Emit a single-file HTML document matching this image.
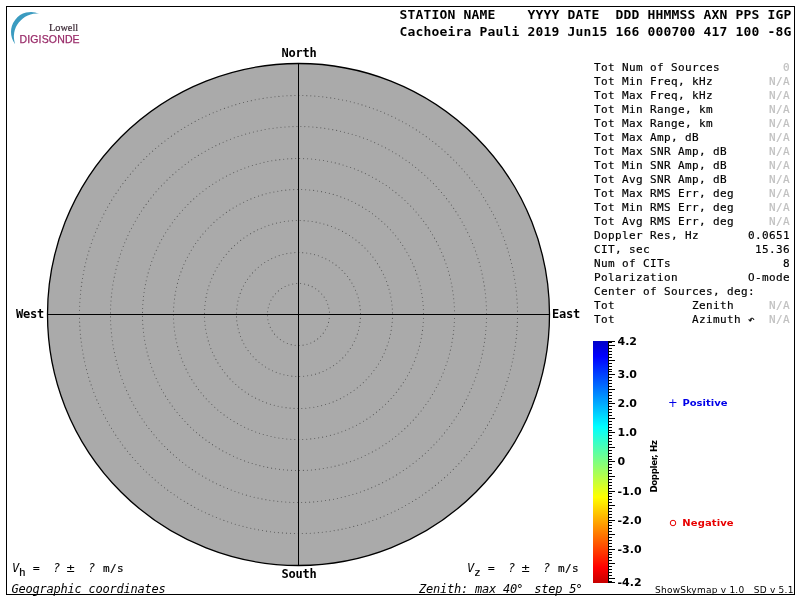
<!DOCTYPE html>
<html lang="en"><head><meta charset="utf-8"><title>Skymap - Cachoeira Paulista</title>
<style>
html,body{margin:0;padding:0;background:#fff;}
body{width:800px;height:600px;overflow:hidden;position:relative;}
svg{position:absolute;left:0;top:0;display:block;}
text{white-space:pre;}
.m{font-family:"DejaVu Sans Mono","Liberation Mono",monospace;font-size:11px;letter-spacing:0.3775px;fill:#000;stroke:#000;stroke-width:0.18px;}
.mo{font-family:"DejaVu Sans Mono","Liberation Mono",monospace;font-size:12px;letter-spacing:-0.2246px;font-style:oblique;fill:#000;}
.mb{font-family:"DejaVu Sans Mono","Liberation Mono",monospace;font-size:12px;letter-spacing:-0.2246px;font-weight:bold;fill:#000;}
.h{font-family:"DejaVu Sans Mono","Liberation Mono",monospace;font-size:13px;letter-spacing:0.1733px;font-weight:bold;fill:#000;}
.g{fill:#c0c0c0;stroke:#c0c0c0;}
.sb{font-family:"DejaVu Sans","Liberation Sans",sans-serif;font-weight:bold;font-size:11px;fill:#000;}
.lg{font-family:"DejaVu Sans","Liberation Sans",sans-serif;font-weight:bold;font-size:10px;}
.ft{font-family:"DejaVu Sans","Liberation Sans",sans-serif;font-size:9px;letter-spacing:0.24px;fill:#000;}
</style></head><body>
<svg width="800" height="600" viewBox="0 0 800 600">
<defs>
<linearGradient id="jet" x1="0" y1="0" x2="0" y2="1">
<stop offset="0" stop-color="#0000c7"/>
<stop offset="0.064" stop-color="#0000ff"/>
<stop offset="0.3547" stop-color="#00ffff"/>
<stop offset="0.6453" stop-color="#ffff00"/>
<stop offset="0.936" stop-color="#ff0000"/>
<stop offset="1" stop-color="#c70000"/>
</linearGradient>
</defs>
<rect x="6.5" y="6.5" width="788" height="588" fill="none" stroke="#000" stroke-width="1" shape-rendering="crispEdges"/>
<circle cx="298.5" cy="314.5" r="251.0" fill="#aaaaaa" stroke="#000" stroke-width="1.3"/>
<circle cx="298.5" cy="314.5" r="31.000" fill="none" stroke="#585858" stroke-width="1.1" stroke-linecap="round" stroke-dasharray="0 4"/>
<circle cx="298.5" cy="314.5" r="62.000" fill="none" stroke="#585858" stroke-width="1.1" stroke-linecap="round" stroke-dasharray="0 4"/>
<circle cx="298.5" cy="314.5" r="94.000" fill="none" stroke="#585858" stroke-width="1.1" stroke-linecap="round" stroke-dasharray="0 4"/>
<circle cx="298.5" cy="314.5" r="125.000" fill="none" stroke="#585858" stroke-width="1.1" stroke-linecap="round" stroke-dasharray="0 4"/>
<circle cx="298.5" cy="314.5" r="156.000" fill="none" stroke="#585858" stroke-width="1.1" stroke-linecap="round" stroke-dasharray="0 4"/>
<circle cx="298.5" cy="314.5" r="188.000" fill="none" stroke="#585858" stroke-width="1.1" stroke-linecap="round" stroke-dasharray="0 4"/>
<circle cx="298.5" cy="314.5" r="219.000" fill="none" stroke="#585858" stroke-width="1.1" stroke-linecap="round" stroke-dasharray="0 4"/>
<g shape-rendering="crispEdges" fill="#000"><rect x="298" y="63" width="1" height="503"/><rect x="47" y="314" width="503" height="1"/></g>
<text class="mb" x="281.5" y="57.3">North</text>
<text class="mb" x="281.5" y="578">South</text>
<text class="mb" x="16" y="318">West</text>
<text class="mb" x="552" y="318">East</text>
<text class="h" x="399.4" y="19">STATION NAME    YYYY DATE  DDD HHMMSS AXN PPS IGP</text>
<text class="h" x="399.4" y="36">Cachoeira Pauli 2019 Jun15 166 000700 417 100 -8G</text>
<text class="m" x="594" y="71">Tot Num of Sources</text>
<text class="m g" x="783" y="71">0</text>
<text class="m" x="594" y="85">Tot Min Freq, kHz</text>
<text class="m g" x="769" y="85">N/A</text>
<text class="m" x="594" y="99">Tot Max Freq, kHz</text>
<text class="m g" x="769" y="99">N/A</text>
<text class="m" x="594" y="113">Tot Min Range, km</text>
<text class="m g" x="769" y="113">N/A</text>
<text class="m" x="594" y="127">Tot Max Range, km</text>
<text class="m g" x="769" y="127">N/A</text>
<text class="m" x="594" y="141">Tot Max Amp, dB</text>
<text class="m g" x="769" y="141">N/A</text>
<text class="m" x="594" y="155">Tot Max SNR Amp, dB</text>
<text class="m g" x="769" y="155">N/A</text>
<text class="m" x="594" y="169">Tot Min SNR Amp, dB</text>
<text class="m g" x="769" y="169">N/A</text>
<text class="m" x="594" y="183">Tot Avg SNR Amp, dB</text>
<text class="m g" x="769" y="183">N/A</text>
<text class="m" x="594" y="197">Tot Max RMS Err, deg</text>
<text class="m g" x="769" y="197">N/A</text>
<text class="m" x="594" y="211">Tot Min RMS Err, deg</text>
<text class="m g" x="769" y="211">N/A</text>
<text class="m" x="594" y="225">Tot Avg RMS Err, deg</text>
<text class="m g" x="769" y="225">N/A</text>
<text class="m" x="594" y="239">Doppler Res, Hz</text>
<text class="m" x="748" y="239">0.0651</text>
<text class="m" x="594" y="253">CIT, sec</text>
<text class="m" x="755" y="253">15.36</text>
<text class="m" x="594" y="267">Num of CITs</text>
<text class="m" x="783" y="267">8</text>
<text class="m" x="594" y="281">Polarization</text>
<text class="m" x="748" y="281">O-mode</text>
<text class="m" x="594" y="295">Center of Sources, deg:</text>
<text class="m" x="594" y="309">Tot           Zenith</text>
<text class="m g" x="769" y="309">N/A</text>
<text class="m" x="594" y="323">Tot           Azimuth ↶</text>
<text class="m g" x="769" y="323">N/A</text>
<text class="mo" x="12" y="572">V</text><text class="m" x="19" y="576">h</text><text class="m" x="33" y="572">=</text><text class="mo" x="53.1" y="572">?</text><text class="m" x="66.1" y="572" style="font-family:'DejaVu Sans','Liberation Sans',sans-serif;font-size:11px;letter-spacing:0">±</text><text class="mo" x="88" y="572">?</text><text class="m" x="103" y="572">m/s</text>
<text class="mo" x="467" y="572">V</text><text class="m" x="474" y="576">z</text><text class="m" x="488" y="572">=</text><text class="mo" x="508.1" y="572">?</text><text class="m" x="521.1" y="572" style="font-family:'DejaVu Sans','Liberation Sans',sans-serif;font-size:11px;letter-spacing:0">±</text><text class="mo" x="543" y="572">?</text><text class="m" x="558" y="572">m/s</text>
<text class="mo" x="11.6" y="593">Geographic coordinates</text>
<text class="mo" x="419" y="593">Zenith: max 40</text>
<text class="mo" x="516.1" y="592.6" style="font-size:12.5px">°</text>
<text class="mo" x="534.25" y="593">step 5</text>
<text class="mo" x="575.3" y="592.6" style="font-size:12.5px">°</text>
<rect x="593" y="341" width="15" height="242" fill="url(#jet)" shape-rendering="crispEdges"/>
<path d="M608 341h1v242h-1zM609 341h6v1h-6zM609 342h3v1h-3zM609 345h6v1h-6zM609 348h3v1h-3zM609 351h3v1h-3zM609 354h3v1h-3zM609 357h3v1h-3zM609 360h6v1h-6zM609 363h3v1h-3zM609 366h3v1h-3zM609 369h3v1h-3zM609 371h3v1h-3zM609 374h6v1h-6zM609 377h3v1h-3zM609 380h3v1h-3zM609 383h3v1h-3zM609 386h3v1h-3zM609 389h6v1h-6zM609 392h3v1h-3zM609 395h3v1h-3zM609 398h3v1h-3zM609 401h3v1h-3zM609 403h6v1h-6zM609 406h3v1h-3zM609 409h3v1h-3zM609 412h3v1h-3zM609 415h3v1h-3zM609 418h6v1h-6zM609 421h3v1h-3zM609 424h3v1h-3zM609 427h3v1h-3zM609 430h3v1h-3zM609 432h6v1h-6zM609 435h3v1h-3zM609 438h3v1h-3zM609 441h3v1h-3zM609 444h3v1h-3zM609 447h6v1h-6zM609 450h3v1h-3zM609 453h3v1h-3zM609 456h3v1h-3zM609 459h3v1h-3zM609 461h6v1h-6zM609 464h3v1h-3zM609 467h3v1h-3zM609 470h3v1h-3zM609 473h3v1h-3zM609 476h6v1h-6zM609 479h3v1h-3zM609 482h3v1h-3zM609 485h3v1h-3zM609 488h3v1h-3zM609 491h6v1h-6zM609 493h3v1h-3zM609 496h3v1h-3zM609 499h3v1h-3zM609 502h3v1h-3zM609 505h6v1h-6zM609 508h3v1h-3zM609 511h3v1h-3zM609 514h3v1h-3zM609 517h3v1h-3zM609 520h6v1h-6zM609 522h3v1h-3zM609 525h3v1h-3zM609 528h3v1h-3zM609 531h3v1h-3zM609 534h6v1h-6zM609 537h3v1h-3zM609 540h3v1h-3zM609 543h3v1h-3zM609 546h3v1h-3zM609 549h6v1h-6zM609 552h3v1h-3zM609 554h3v1h-3zM609 557h3v1h-3zM609 560h3v1h-3zM609 563h6v1h-6zM609 566h3v1h-3zM609 569h3v1h-3zM609 572h3v1h-3zM609 575h3v1h-3zM609 578h6v1h-6zM609 581h3v1h-3zM609 582h6v1h-6z" fill="#000" shape-rendering="crispEdges"/>
<text class="sb" x="617.5" y="345">4.2</text>
<text class="sb" x="617.5" y="378">3.0</text>
<text class="sb" x="617.5" y="407">2.0</text>
<text class="sb" x="617.5" y="436">1.0</text>
<text class="sb" x="617.5" y="465">0</text>
<text class="sb" x="617.5" y="495">-1.0</text>
<text class="sb" x="617.5" y="524">-2.0</text>
<text class="sb" x="617.5" y="553">-3.0</text>
<text class="sb" x="617.5" y="586">-4.2</text>
<text class="lg" style="font-size:9.5px;letter-spacing:-0.42px" fill="#000" transform="translate(657.2 492.6) rotate(-90) scale(0.92 1)">Doppler, Hz</text>
<text fill="#0000e8" x="667.9" y="407.1" style="font-family:'DejaVu Sans','Liberation Sans',sans-serif;font-size:11.5px">+</text>
<text class="lg" fill="#0000e8" transform="translate(682.4 405.9) scale(1 0.93)">Positive</text>
<circle cx="673" cy="523" r="2.75" fill="none" stroke="#e80000" stroke-width="1"/>
<text class="lg" fill="#e80000" transform="translate(682.3 525.9) scale(1 0.93)" style="letter-spacing:0.12px">Negative</text>
<text class="ft" x="655" y="593">ShowSkymap v 1.0   SD v 5.1</text>
<path d="M39.02 13.68A20 20 0 0 0 15.16 44.2A23.047 23.047 0 0 1 39.02 13.68z" fill="#3a9bc0"/>
<text x="49" y="30.5" style="font-family:'Liberation Serif',serif;font-size:10.3px" fill="#3c2a36" stroke="#3c2a36" stroke-width="0.2">Lowell</text>
<text x="19.5" y="42.5" style="font-family:'Liberation Sans',sans-serif;font-size:10.5px;letter-spacing:0.15px" fill="#9a2d6a" stroke="#9a2d6a" stroke-width="0.25">DIGISONDE</text>
</svg></body></html>
